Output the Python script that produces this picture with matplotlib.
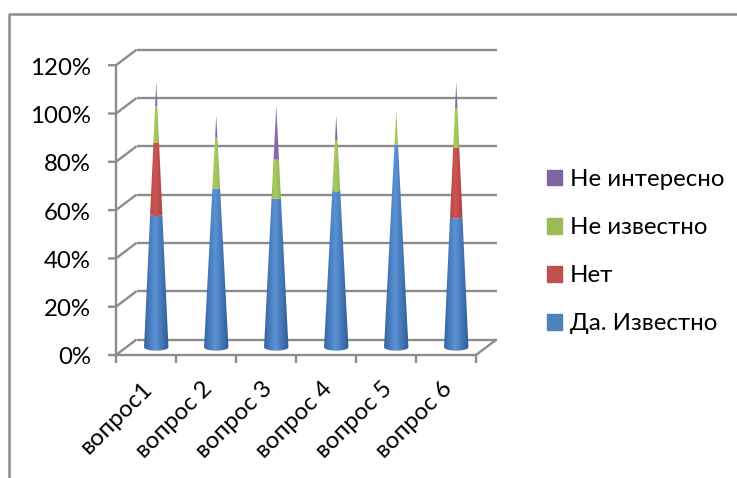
import numpy as np
import matplotlib
matplotlib.use("Agg")
import matplotlib.pyplot as plt
from matplotlib.colors import LinearSegmentedColormap
from matplotlib.patches import Patch, Polygon

plt.rcParams['font.family'] = ['Lato', 'Open Sans', 'DejaVu Sans']

categories = ["вопрос1", "вопрос 2", "вопрос 3", "вопрос 4", "вопрос 5", "вопрос 6"]
yes_known = [55, 66, 62, 65, 84, 54]
no = [30, 0, 0, 0, 0, 29]
not_known = [15, 21, 16, 21, 14, 16]
not_interesting = [10, 9, 22, 10, 0, 11]
y_ticks = [0, 20, 40, 60, 80, 100, 120]
series_names = ["Да. Известно", "Нет", "Не известно", "Не интересно"]

W, H = 737, 478
X0, Y0 = 116, 355      # front corner of the axes, pixels
CAT_W, PCT_H = 60, 2.415
DEPTH_X, DEPTH_Y = 20.5, 15.5
GRAY = "#8c8c8c"
FONT = 17.3

# edge, middle colours of the cone shading
shades = [("#2c5b92", "#5b92d6"), ("#8e3431", "#cc5552"),
          ("#76963a", "#a9ca60"), ("#5c4380", "#8c6ab2")]
legend_colors = ["#4f81bd", "#c0504d", "#9bbb59", "#8064a2"]

fig = plt.figure(figsize=(W / 100, H / 100), dpi=100)
ax = fig.add_axes([0, 0, 1, 1])
ax.axis('off')


def dx(px):
    return (px - X0) / CAT_W


def dy(py):
    return (Y0 - py) / PCT_H


line = dict(color=GRAY, lw=1.7, solid_capstyle='butt', zorder=1)
n = len(categories)
back_x, back_y = DEPTH_X / CAT_W, DEPTH_Y / PCT_H

# walls and floor
for v in y_ticks:
    ax.plot([-8 / CAT_W, 0, back_x], [v, v, v + back_y], **line)
    ax.plot([back_x, n + back_x], [v + back_y, v + back_y], **line)
    ax.text(dx(91), v - 3 / PCT_H, f"{v}%", ha='right', va='center', fontsize=FONT, color='black')
ax.plot([0, 0], [0, y_ticks[-1]], **line)
ax.plot([0, n, n + back_x], [0, 0, back_y], **line)
for i in range(n + 1):
    ax.plot([i, i], [0, -8 / PCT_H], **line)

# frame of the chart, only top and left show up
ax.plot([dx(8.5), dx(8.5), dx(W)], [dy(H), dy(13.5), dy(13.5)], color=GRAY, lw=1.8, zorder=1)

# stacked cones
R = 12.2
RY = 3.4
t = np.linspace(0, np.pi, 30)
stack = np.array([yes_known, no, not_known, not_interesting], dtype=float)
totals = stack.sum(axis=0)
grad = np.abs(np.linspace(-1, 1, 64) + 0.1)[None, :]

for i in range(n):
    cx = i + 0.5 + back_x / 2
    y_base = back_y / 2
    bottom = 0.0
    for s in range(len(series_names)):
        h = stack[s, i]
        if h == 0:
            continue
        top = bottom + h
        r0 = R * (1 - bottom / totals[i])
        r1 = R * (1 - top / totals[i])
        lower_x = cx - r0 * np.cos(t) / CAT_W
        lower_y = y_base + bottom - r0 / R * RY * np.sin(t) / PCT_H
        upper_x = cx + r1 * np.cos(t) / CAT_W
        upper_y = y_base + top - r1 / R * RY * np.sin(t) / PCT_H
        pts = np.column_stack([np.r_[lower_x, upper_x], np.r_[lower_y, upper_y]])
        poly = Polygon(pts, closed=True, fc='none', ec='none', transform=ax.transData)
        ax.add_patch(poly)
        cmap = LinearSegmentedColormap.from_list("c", [shades[s][1], shades[s][0]])
        im = ax.imshow(grad, cmap=cmap, vmin=0, vmax=1.1, aspect='auto', zorder=3,
                       extent=[cx - R / CAT_W, cx + R / CAT_W,
                               y_base + bottom - 2 * RY / PCT_H, y_base + top + 2 * RY / PCT_H])
        im.set_clip_path(poly)
        bottom = top

ax.set_xlim(dx(0), dx(W))
ax.set_ylim(dy(H), dy(0))

# category labels
for i, name in enumerate(categories):
    ax.text(dx(141) + i, dy(378), name, rotation=45, ha='right', va='top',
            rotation_mode='anchor', fontsize=FONT, color='black')

# legend, top entry is the last series
handles = [Patch(color=c, label=l) for c, l in zip(legend_colors[::-1], series_names[::-1])]
ax.legend(handles=handles, loc='upper left', bbox_to_anchor=(547 / W, 1 - 169 / H),
          frameon=False, fontsize=FONT, handlelength=0.625, handleheight=0.625,
          handletextpad=0.33, labelspacing=1.13, borderpad=0, borderaxespad=0)

fig.savefig("out.png", dpi=100)
